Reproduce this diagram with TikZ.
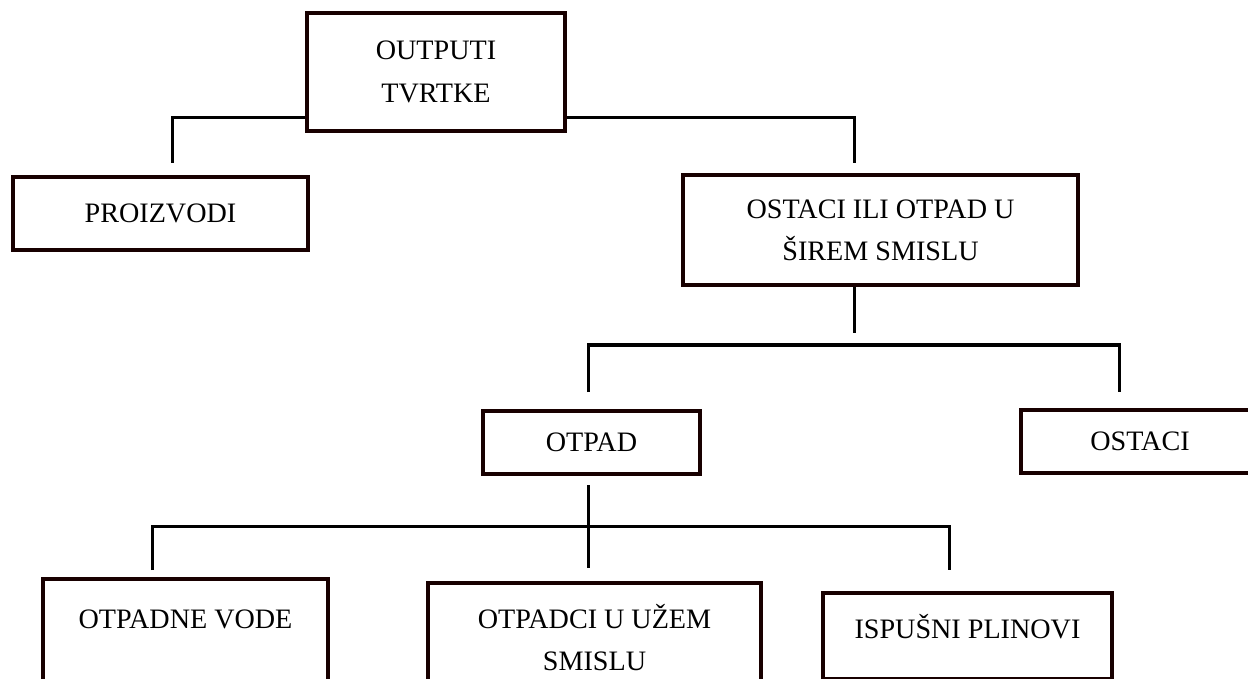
\documentclass[tikz,border=0pt]{standalone}
\usepackage{fontspec}
\setmainfont{Liberation Serif}
\usetikzlibrary{calc}
\definecolor{boxline}{RGB}{24,0,0}

\begin{document}
\begin{tikzpicture}[
		x=0.01cm,y=-0.01cm,
		box/.style={draw=boxline,line width=0.04cm,fill=white,align=center,inner xsep=0pt,font=\fontsize{8pt}{12pt}\selectfont},
		conn/.style={draw=black,line width=0.03cm}
		]
		\useasboundingbox (0,0) rectangle (1248,679);
		\clip (0,0) rectangle (1248,679);
		
		\node[box,minimum width=2.58cm,minimum height=1.18cm](out) at (436,72){OUTPUTI\\TVRTKE};
		\node[box,minimum width=2.95cm,minimum height=0.73cm](proizvodi) at (160.5,213.5){PROIZVODI};
		\node[box,minimum width=3.95cm,minimum height=1.10cm](siri) at (880.5,230){OSTACI ILI OTPAD U\\ŠIREM SMISLU};
		\node[box,minimum width=2.17cm,minimum height=0.63cm](otpad) at (591.5,442.5){OTPAD};
		\node[box,minimum width=2.38cm,minimum height=0.63cm](ostaci) at (1140,441.5){OSTACI};
		\node[box,anchor=north,minimum width=2.85cm,inner ysep=0.31cm,text height=0.18cm,text depth=0.8cm](vode) at (185.5,577){OTPADNE VODE};
		\node[box,anchor=north,minimum width=3.33cm,inner ysep=0.21cm](uzi) at (594.5,581){OTPADCI U UŽEM\\SMISLU};
		\node[box,anchor=north,minimum width=2.89cm,inner ysep=0.27cm,text height=0.18cm,text depth=0.14cm](plinovi) at (967.5,591){ISPUŠNI PLINOVI};
		
		% first level
		\coordinate (t1) at (172,163);
		\coordinate (t2) at (854,163);
		\draw[conn] (t1) |- ([yshift=-0.45cm]out.west);
		\draw[conn] (t2) |- ([yshift=-0.45cm]out.east);
		
		% second level
		\coordinate (s1) at (854,333);
		\coordinate (h1) at (588,345);
		\coordinate (c1) at (588,392);
		\coordinate (c2) at (1119,392);
		\draw[conn] (siri.south -| s1) -- (s1);
		\draw[conn] (c1) -- (h1) -| (c2);
		
		% third level
		\coordinate (d1) at (152,570);
		\coordinate (d2) at (588,568);
		\coordinate (d3) at (949,570);
		\coordinate (h2) at (152,526);
		\draw[conn] ($(otpad.south -| d2)+(0,9)$) -- (d2);
		\draw[conn] (d1) -- (h2) -| (d3);
		
\end{tikzpicture}
\end{document}
